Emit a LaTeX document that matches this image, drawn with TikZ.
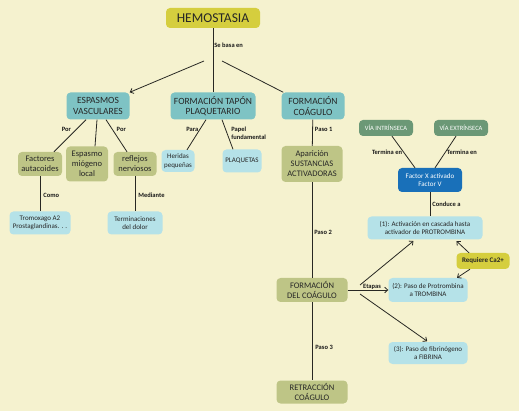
\documentclass[tikz,border=0pt]{standalone}
\usepackage{fontspec}
\setmainfont{Carlito}
\definecolor{hemocream}{RGB}{245,242,207}
\definecolor{hemoyellow}{RGB}{213,206,62}
\definecolor{hemoteal}{RGB}{126,195,196}
\definecolor{hemoolive}{RGB}{190,197,134}
\definecolor{hemosky}{RGB}{181,226,232}
\definecolor{hemogreen}{RGB}{107,152,118}
\definecolor{hemoblue}{RGB}{25,112,185}
\definecolor{hemoline}{RGB}{40,40,35}
\usetikzlibrary{arrows.meta,positioning,calc}

\begin{document}
\begin{tikzpicture}[x=1pt, y=-1pt,
    box/.style={rounded corners=4pt, align=center, inner sep=1pt, text=black!85},
    yellowbox/.style={box, fill=hemoyellow},
    tealbox/.style={box, fill=hemoteal, font=\fontsize{9.5}{10.5}\selectfont},
    olivebox/.style={box, fill=hemoolive, font=\fontsize{8.5}{10}\selectfont},
    skybox/.style={box, fill=hemosky, font=\fontsize{7}{8.5}\selectfont},
    greenbox/.style={box, fill=hemogreen, text=white, font=\fontsize{6.5}{8}\selectfont},
    bluebox/.style={box, fill=hemoblue, text=white, font=\fontsize{7}{8.5}\selectfont},
    lbl/.style={font=\fontsize{6.5}{7.5}\selectfont\bfseries, inner sep=1pt, text=black!90},
    link/.style={hemoline, line width=0.8pt},
    arr/.style={link, -{Straight Barb[length=3pt,width=5.5pt]}}]
        % Background
        \fill[hemocream] (0,0) rectangle (519,411);
        \useasboundingbox (0,0) rectangle (519,411);

        % Root
        \node[yellowbox, minimum width=94pt, minimum height=20pt, font=\fontsize{13.5}{15}\selectfont] (hemo) at (213,18) {HEMOSTASIA};

        % Main branches
        \node[tealbox, minimum width=63pt, minimum height=27pt] (esp) at (98,106) {ESPASMOS\\VASCULARES};
        \node[tealbox, minimum width=85pt, minimum height=27pt] (tapon) at (213,106) {FORMACIÓN TAPÓN\\PLAQUETARIO};
        \node[tealbox, minimum width=63pt, minimum height=27pt] (coag) at (313,106) {FORMACIÓN\\COÁGULO};

        \coordinate (bl) at (204,61);
        \coordinate (br) at (222,61);
        \draw[link] (hemo) -- node[lbl, right, pos=0.27] {Se basa en} (tapon);
        \draw[arr] (bl) -- (esp.north east);
        \draw[link] (br) -- ([xshift=2pt]coag.north west);

        % Vascular spasms
        \node[olivebox, minimum width=44pt, minimum height=24pt] (fact) at (40,164) {Factores\\autacoides};
        \node[olivebox, minimum width=42pt, minimum height=35pt] (miog) at (87,164) {Espasmo\\miógeno\\local};
        \node[olivebox, minimum width=43pt, minimum height=24pt] (refl) at (135,164) {reflejos\\nerviosos};
        \node[skybox, minimum width=61pt, minimum height=23pt] (trom) at (40,223) {Tromoxago A2\\Prostaglandinas. . .};
        \node[skybox, minimum width=55pt, minimum height=23pt] (term) at (135,223) {Terminaciones\\del dolor};

        \draw[link] ([xshift=-12pt]esp.south) -- node[lbl, left, pos=0.3, xshift=-4pt] {Por} ([xshift=14pt]fact.north);
        \draw[link] ([xshift=-1pt]esp.south) -- ([xshift=8pt]miog.north);
        \draw[link] ([xshift=8pt]esp.south) -- node[lbl, right, pos=0.3, xshift=3pt] {Por} ([xshift=-8pt]refl.north);
        \draw[link] (fact) -- node[lbl, right, pos=0.55, xshift=2pt] {Como} (trom);
        \draw[link] (refl) -- node[lbl, right, pos=0.55, xshift=2pt] {Mediante} (term);

        % Platelet plug
        \node[skybox, minimum width=33pt, minimum height=22pt] (herid) at (178,161) {Heridas\\pequeñas};
        \node[skybox, minimum width=39pt, minimum height=23pt] (plaq) at (242,161) {PLAQUETAS};

        \draw[link] ([xshift=-7pt]tapon.south) -- node[lbl, left, pos=0.33] {Para} ([xshift=9pt]herid.north);
        \draw[link] ([xshift=9pt]tapon.south) -- node[lbl, right, align=left, pos=0.45, xshift=3pt] {Papel\\fundamental} ([xshift=-9pt]plaq.north);

        % Clot formation
        \node[olivebox, minimum width=61pt, minimum height=36pt] (apar) at (312,164) {Aparición\\SUSTANCIAS\\ACTIVADORAS};
        \node[olivebox, minimum width=71pt, minimum height=24pt] (fdc) at (312,290) {FORMACIÓN\\DEL COÁGULO};
        \node[olivebox, minimum width=71pt, minimum height=23pt] (retr) at (312,392) {RETRACCIÓN\\COÁGULO};

        \draw[link] (coag) -- node[lbl, right, pos=0.38, xshift=1pt] {Paso 1} (apar);
        \draw[link] (apar) -- node[lbl, right, pos=0.52, xshift=1pt] {Paso 2} (fdc);
        \draw[link] (fdc) -- node[lbl, right, pos=0.58, xshift=2pt] {Paso 3} (retr);

        % Pathways
        \node[greenbox, minimum width=54pt, minimum height=16pt] (vint) at (386,128) {VÍA INTRÍNSECA};
        \node[greenbox, minimum width=54pt, minimum height=16pt] (vext) at (461,128) {VÍA EXTRÍNSECA};
        \node[bluebox, minimum width=64pt, minimum height=24pt] (fx) at (430,180) {Factor X activado\\Factor V};

        \draw[link] ([xshift=6pt]vint.south) -- node[lbl, left, pos=0.5] {Termina en} ([xshift=-15pt]fx.north);
        \draw[link] ([xshift=-5pt]vext.south) -- node[lbl, right, pos=0.5] {Termina en} ([xshift=5pt]fx.north);

        % Stages
        \node[skybox, minimum width=115pt, minimum height=23pt] (p1) at (425,228) {(1): Activación en cascada hasta\\activador de PROTROMBINA};
        \node[skybox, minimum width=79pt, minimum height=24pt] (p2) at (428,290) {(2): Paso de Protrombina\\a TROMBINA};
        \node[skybox, minimum width=79pt, minimum height=22pt] (p3) at (428,353) {(3): Paso de fibrinógeno\\a FIBRINA};
        \node[yellowbox, minimum width=53pt, minimum height=16pt, font=\fontsize{7}{8}\selectfont\bfseries] (ca) at (483,261) {Requiere Ca2+};

        \draw[link] (fx) -- node[lbl, right, pos=0.5, xshift=1pt] {Conduce a} (fx.south |- p1.north);

        \coordinate (e1) at (360,285);
        \coordinate (e2) at (360,294);
        \draw[arr, shorten >=2pt] (e1) -- ([xshift=-10pt]p1.south);
        \draw[arr] (fdc.east) -- node[lbl, above, pos=0.6, inner sep=0.5pt] {Etapas} (p2.west);
        \draw[arr, shorten >=1pt] (e2) -- (p3.north);
        \draw[arr, shorten >=2pt] ([xshift=-14pt]ca.north) -- ([xshift=30pt]p1.south);
        \draw[arr] ([xshift=-13pt]ca.south) -- ([xshift=29pt]p2.north);
      \end{tikzpicture}
\end{document}
